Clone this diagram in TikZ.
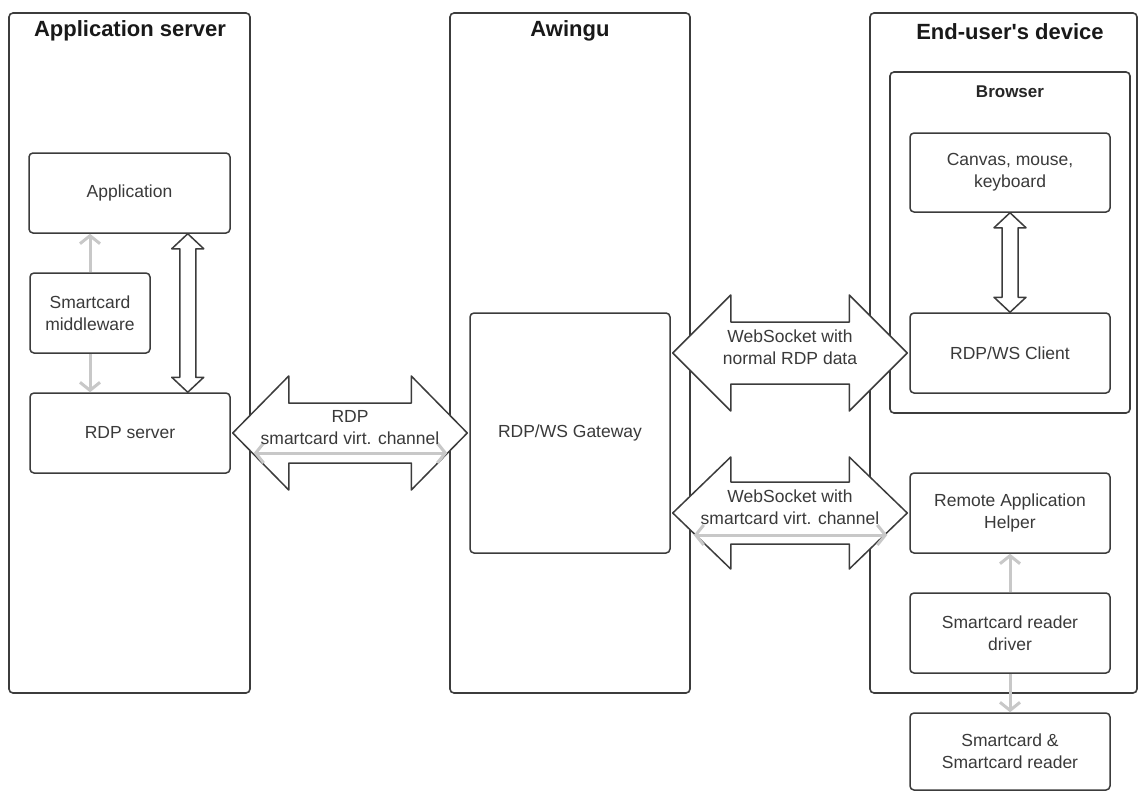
\documentclass[tikz,border=0pt]{standalone}
\usepackage{fontspec}
\setmainfont{Liberation Sans}
\usetikzlibrary{arrows.meta,calc}
\definecolor{edge}{HTML}{3C3C3C}
\definecolor{txt}{HTML}{3A3A3A}
\definecolor{lgray}{HTML}{C8C8C8}
\tikzset{
  container/.style={draw=edge,line width=1.6pt,rounded corners=4pt},
  boxn/.style={draw=edge,line width=1.5pt,rounded corners=4pt,fill=white,
    minimum width=#1,align=center,text=txt,font=\fontsize{17.5}{22}\selectfont,inner sep=0pt},
  title/.style={font=\bfseries\fontsize{22}{26}\selectfont,text=black!90},
  subtitle/.style={font=\bfseries\fontsize{17}{20}\selectfont,text=black!85},
  bigarrow/.style={draw=edge,line width=1.5pt,fill=white,line join=round},
  grayarrow/.style={draw=lgray,line width=3pt,-{Straight Barb[length=8pt,width=20pt]}},
  graydbl/.style={draw=lgray,line width=3pt,{Straight Barb[length=8pt,width=20pt]}-{Straight Barb[length=8pt,width=20pt]}},
  lbl/.style={align=center,text=txt,font=\fontsize{17.5}{22}\selectfont,inner sep=0pt}
}
% horizontal hollow double arrow: from, to, head length, head half, shaft half
\newcommand\hdblarrow[5]{%
  \draw[bigarrow] let \p1=(#1), \p2=(#2) in
  (\x1,\y1) -- (\x1+#3,\y1+#4) -- (\x1+#3,\y1+#5) -- (\x2-#3,\y1+#5) -- (\x2-#3,\y1+#4)
  -- (\x2,\y1) -- (\x2-#3,\y1-#4) -- (\x2-#3,\y1-#5) -- (\x1+#3,\y1-#5) -- (\x1+#3,\y1-#4) -- cycle;}
% vertical hollow double arrow: top, bottom, head length, head half, shaft half
\newcommand\vdblarrow[5]{%
  \draw[bigarrow] let \p1=(#1), \p2=(#2) in
  (\x1,\y1) -- (\x1+#4,\y1-#3) -- (\x1+#5,\y1-#3) -- (\x1+#5,\y2+#3) -- (\x1+#4,\y2+#3)
  -- (\x1,\y2) -- (\x1-#4,\y2+#3) -- (\x1-#5,\y2+#3) -- (\x1-#5,\y1-#3) -- (\x1-#4,\y1-#3) -- cycle;}
\begin{document}
\begin{tikzpicture}[x=1pt,y=-1pt]
\useasboundingbox[fill=white] (0,0) rectangle (1138,792);
% containers
\draw[container] (9,13) rectangle (250,693);
\node[title] (t1) at (130,31) {Application server};
\draw[container] (450,13) rectangle (690,693);
\node[title] (t2) at (570,31) {Awingu};
\draw[container] (870,13) rectangle (1137,693);
\node[title] (t3) at (1010,32) {End-user\textquotesingle s device};
\draw[container] (890,72) rectangle (1130,413);
\node[subtitle] (t4) at (1010,92) {Browser};
% boxes
\node[boxn=201pt,minimum height=80pt] (app) at (129.5,193) {Application};
\node[boxn=120pt,minimum height=80pt] (mw) at (90,313) {Smartcard\\middleware};
\node[boxn=200pt,minimum height=80pt] (rdp) at (130,433) {RDP server};
\node[boxn=200pt,minimum height=240pt] (gw) at (570,433) {RDP/WS Gateway};
\node[boxn=200pt,minimum height=79pt] (canvas) at (1010,172.5) {Canvas, mouse,\\keyboard};
\node[boxn=200pt,minimum height=80pt] (client) at (1010,353) {RDP/WS Client};
\node[boxn=200pt,minimum height=80pt] (helper) at (1010,513) {Remote Application\\Helper};
\node[boxn=200pt,minimum height=80pt] (drv) at (1010,633) {Smartcard reader\\driver};
\node[boxn=200pt,minimum height=77pt] (card) at (1010,751.5) {Smartcard \&\\Smartcard reader};
% gray arrows
\draw[grayarrow] (mw.north) -- (mw.north |- app.south);
\draw[grayarrow] (mw.south) -- (mw.south |- rdp.north);
\draw[grayarrow] (drv.north) -- (helper.south);
\draw[grayarrow] (drv.south) -- (card.north);
% vertical hollow arrows
\coordinate (va) at ($(app.south east)+(-43,0)$);
\coordinate (vb) at (va |- rdp.north);
\vdblarrow{va}{vb}{15pt}{16pt}{8pt}
\vdblarrow{canvas.south}{client.north}{15pt}{16pt}{8pt}
% big horizontal arrows
\coordinate (ra) at ($(rdp.east)+(2,0)$);
\coordinate (rb) at ($(gw.west)+(-2,0)$);
\hdblarrow{ra}{rb}{56pt}{57pt}{30pt}
\coordinate (wa) at ($(client.west -| gw.east)+(2,0)$);
\coordinate (wb) at ($(client.west)+(-2,0)$);
\hdblarrow{wa}{wb}{58pt}{58pt}{31pt}
\coordinate (sa) at ($(helper.west -| gw.east)+(2,0)$);
\coordinate (sb) at ($(helper.west)+(-2,0)$);
\hdblarrow{sa}{sb}{58pt}{56pt}{31pt}
% gray double arrows inside
\draw[graydbl] ($(rdp.east)+(23,20)$) -- ($(gw.west)+(-22,20)$);
\draw[graydbl] ($(helper.west -| gw.east)+(23,22)$) -- ($(helper.west)+(-22,22)$);
% labels
\node[lbl] (l1) at ($(ra)!0.5!(rb)+(0,-5)$) {RDP\\smartcard virt. channel};
\node[lbl] (l2) at ($(wa)!0.5!(wb)+(0,-6)$) {WebSocket with\\normal RDP data};
\node[lbl] (l3) at ($(sa)!0.5!(sb)+(0,-6)$) {WebSocket with\\smartcard virt. channel};
\end{tikzpicture}
\end{document}
